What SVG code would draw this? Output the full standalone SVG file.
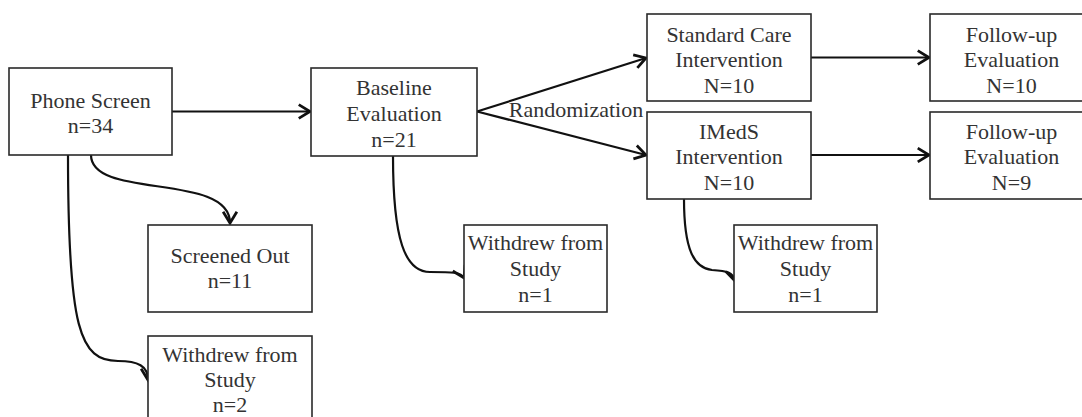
<svg xmlns="http://www.w3.org/2000/svg" width="1082" height="417" viewBox="0 0 1082 417">
<defs>
<style>
.box{fill:#fff;stroke:#2a2a2a;stroke-width:1.6}
.t{font-family:"Liberation Serif","Times New Roman",serif;font-size:22px;fill:#333;text-anchor:middle}
.c{fill:none;stroke:#111;stroke-width:2.2}
</style>
<marker id="ah" markerUnits="userSpaceOnUse" markerWidth="20" markerHeight="20" viewBox="-12 -8 16 16" refX="0" refY="0" orient="auto">
<path d="M-9,-5.5 L0,0 L-9,5.5" fill="none" stroke="#111" stroke-width="2.2"/>
</marker>
</defs>
<rect width="1082" height="417" fill="#fff"/>
<g id="connectors">
<path class="c" d="M172,111.5 L310,111.5" marker-end="url(#ah)"/>
<path class="c" d="M477,111.5 L646,58" marker-end="url(#ah)"/>
<path class="c" d="M477,111.5 L646,155" marker-end="url(#ah)"/>
<path class="c" d="M811,57.5 L929,57.5" marker-end="url(#ah)"/>
<path class="c" d="M811,155 L929,155" marker-end="url(#ah)"/>
<path class="c" d="M91,155 C91,200 230,172 230,223" marker-end="url(#ah)"/>
<path class="c" d="M68,155 C68,330 80,361 118,361 C138,361 148,366 148,380" marker-end="url(#ah)"/>
<path class="c" d="M393,156 C393,240 405,272 430,272 C452,272 461,272 464,278" marker-end="url(#ah)"/>
<path class="c" d="M684,199 C684,250 694,268 712,270 C727,271 733,272 735,281" marker-end="url(#ah)"/>
</g>
<g id="phone-screen">
<rect class="box" x="9" y="68" width="163" height="87"/>
<text class="t" x="90.5" y="108">Phone Screen</text>
<text class="t" x="90.5" y="133">n=34</text>
</g>
<g id="baseline">
<rect class="box" x="311" y="68" width="166" height="88"/>
<text class="t" x="394" y="95">Baseline</text>
<text class="t" x="394" y="121">Evaluation</text>
<text class="t" x="394" y="147">n=21</text>
</g>
<g id="randomization">
<text class="t" x="576" y="117">Randomization</text>
</g>
<g id="standard-care">
<rect class="box" x="647" y="14" width="164" height="87"/>
<text class="t" x="729" y="42">Standard Care</text>
<text class="t" x="729" y="67">Intervention</text>
<text class="t" x="729" y="93">N=10</text>
</g>
<g id="imeds">
<rect class="box" x="647" y="112" width="164" height="87"/>
<text class="t" x="729" y="139">IMedS</text>
<text class="t" x="729" y="164">Intervention</text>
<text class="t" x="729" y="190">N=10</text>
</g>
<g id="followup-1">
<rect class="box" x="930" y="14" width="165" height="87"/>
<text class="t" x="1011.5" y="42">Follow-up</text>
<text class="t" x="1011.5" y="67">Evaluation</text>
<text class="t" x="1011.5" y="93">N=10</text>
</g>
<g id="followup-2">
<rect class="box" x="930" y="112" width="165" height="87"/>
<text class="t" x="1011.5" y="139">Follow-up</text>
<text class="t" x="1011.5" y="164">Evaluation</text>
<text class="t" x="1011.5" y="190">N=9</text>
</g>
<g id="screened-out">
<rect class="box" x="148" y="225" width="164" height="87"/>
<text class="t" x="230" y="263">Screened Out</text>
<text class="t" x="230" y="288">n=11</text>
</g>
<g id="withdrew-phone">
<rect class="box" x="148" y="336" width="164" height="95"/>
<text class="t" x="230" y="362">Withdrew from</text>
<text class="t" x="230" y="387">Study</text>
<text class="t" x="230" y="412">n=2</text>
</g>
<g id="withdrew-baseline">
<rect class="box" x="464" y="225" width="143" height="87"/>
<text class="t" x="535.5" y="250">Withdrew from</text>
<text class="t" x="535.5" y="276">Study</text>
<text class="t" x="535.5" y="302">n=1</text>
</g>
<g id="withdrew-imeds">
<rect class="box" x="734" y="225" width="143" height="87"/>
<text class="t" x="805.5" y="250">Withdrew from</text>
<text class="t" x="805.5" y="276">Study</text>
<text class="t" x="805.5" y="302">n=1</text>
</g>
</svg>
